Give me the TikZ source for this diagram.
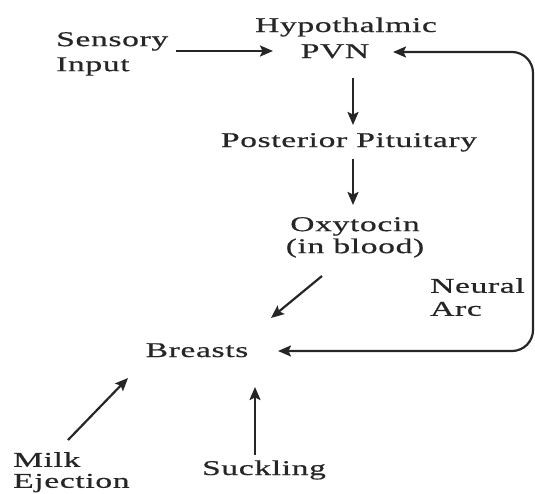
\documentclass[tikz,border=0pt]{standalone}
\usepackage{fontspec}
\setmainfont{Liberation Serif}[FakeStretch=1.6,LetterSpace=3,FakeBold=0.6]
\usetikzlibrary{arrows.meta}
\begin{document}
\begin{tikzpicture}[x=1pt,y=-1pt,
  lbl/.style={inner sep=0pt,font=\fontsize{21}{23}\selectfont,text=black!85},
  arr/.style={-{Stealth[length=13pt,width=11pt,inset=2.5pt]},line width=2.2pt,black!85},
  darr/.style={{Stealth[length=13pt,width=11pt,inset=2.5pt]}-{Stealth[length=13pt,width=11pt,inset=2.5pt]},line width=2.2pt,black!85,rounded corners=21pt}]
\useasboundingbox (0,0) rectangle (535,493);
\node[lbl,anchor=base] (hyp) at (346,32) {Hypothalmic};
\node[lbl,anchor=base] (pvn) at (335,58) {PVN};
\node[lbl,align=left,anchor=north west,font=\fontsize{21}{25}\selectfont] (sens) at (56,32) {Sensory\\Input};
\node[lbl,anchor=base] (post) at (349,147) {Posterior Pituitary};
\node[lbl,align=center,anchor=north,font=\fontsize{21}{22}\selectfont] (oxy) at (355,217) {Oxytocin\\(in blood)};
\node[lbl,align=left,anchor=north west] (neural) at (430,278) {Neural\\Arc};
\node[lbl,anchor=base] (breasts) at (197,357) {Breasts};
\node[lbl,align=left,anchor=north west,font=\fontsize{21}{21}\selectfont] (milk) at (13,452) {Milk\\Ejection};
\node[lbl,anchor=base] (suck) at (264,475) {Suckling};
\coordinate (tr) at (533,52);
\coordinate (br) at (533,351);
\coordinate (pvnend) at (393,52);
\coordinate (brend) at (278,351);
\coordinate (sensstart) at (176,51);
\coordinate (sensend) at (273,51);
\coordinate (v1a) at (353,78);
\coordinate (v1b) at (353,125);
\coordinate (v2a) at (353,159);
\coordinate (v2b) at (353,205);
\coordinate (oxystart) at (322,276);
\coordinate (oxyend) at (271,318);
\coordinate (milkstart) at (68,440);
\coordinate (milkend) at (128,378);
\coordinate (suckstart) at (255,455);
\coordinate (suckend) at (255,387);
\draw[arr] (sensstart) -- (sensend);
\draw[darr] (pvnend) -- (tr) -- (br) -- (brend);
\draw[arr] (v1a) -- (v1b);
\draw[arr] (v2a) -- (v2b);
\draw[arr] (oxystart) -- (oxyend);
\draw[arr] (milkstart) -- (milkend);
\draw[arr] (suckstart) -- (suckend);
\end{tikzpicture}
\end{document}
